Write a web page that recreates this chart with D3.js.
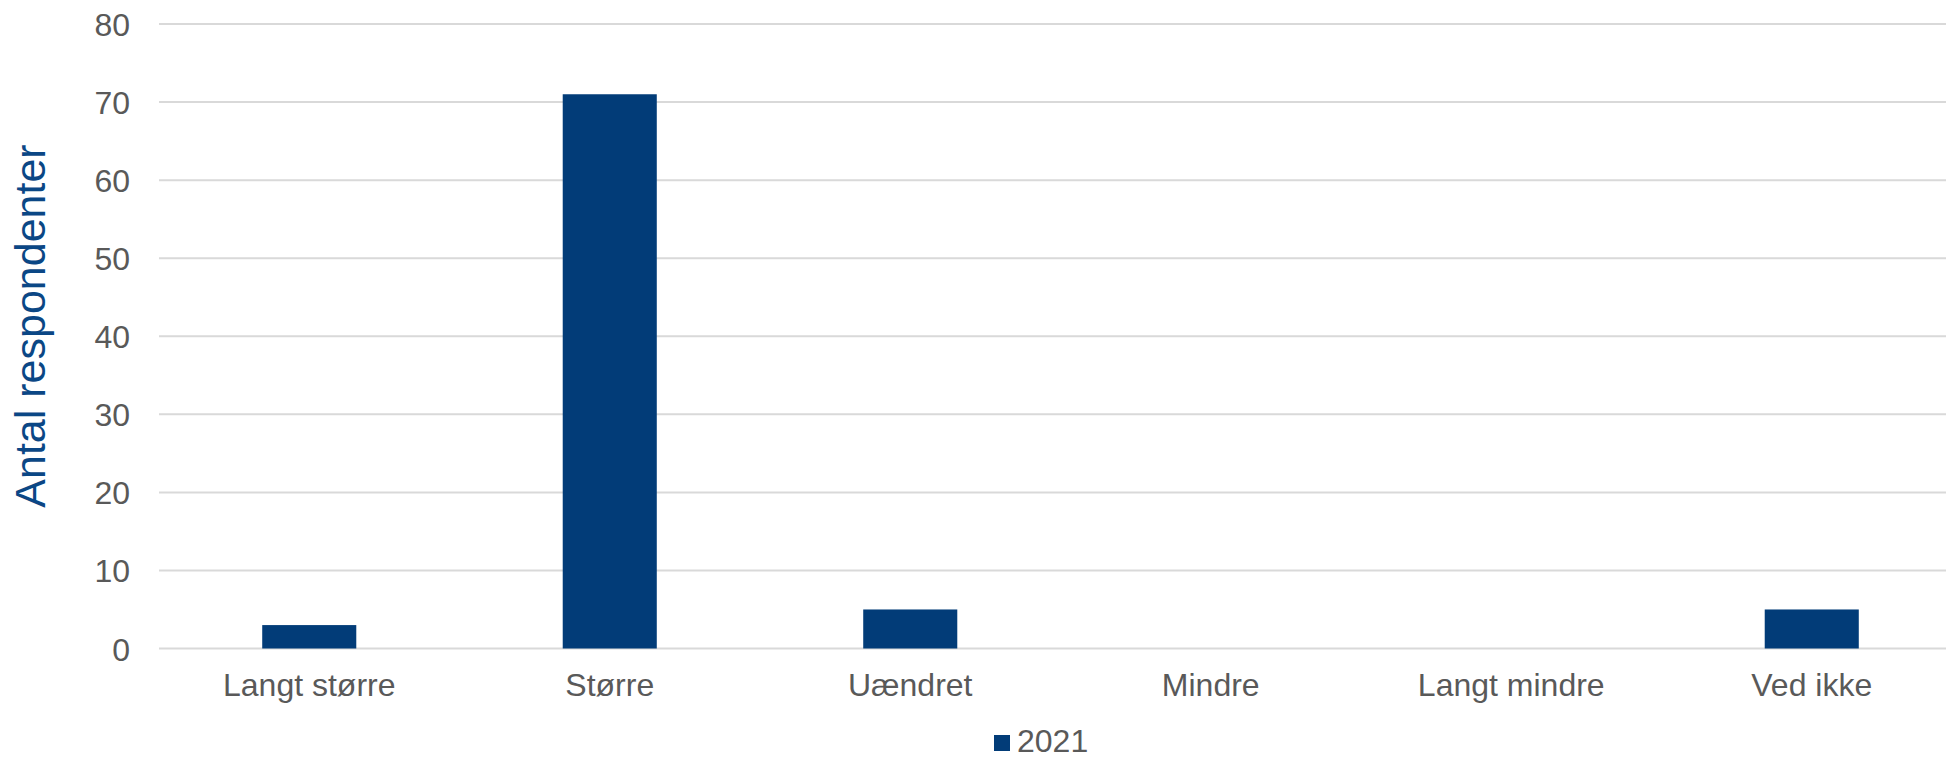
<!DOCTYPE html>
<html>
<head>
<meta charset="utf-8">
<script src="https://cdn.jsdelivr.net/npm/d3@7"></script>
<style>
  html, body { margin: 0; padding: 0; background: #fff; }
  svg { display: block; font-family: "Liberation Sans", Arial, sans-serif; }
  .axis path, .axis line { display: none; }
  .axis text { fill: #595959; font-size: 32px; }
  .grid line { stroke: #d9d9d9; stroke-width: 2; }
</style>
</head>
<body>
<svg id="chart"></svg>
<script>
'use strict';

// Data
var categories = ['Langt større', 'Større', 'Uændret', 'Mindre', 'Langt mindre', 'Ved ikke'];
var values2021 = [3, 71, 5, 0, 0, 5];
var yTicks = [0, 10, 20, 30, 40, 50, 60, 70, 80];
var seriesName = '2021';

var W = 1946, H = 759;
var margin = { top: 24, right: -16, bottom: 110, left: 159 };
var width = W - margin.left - margin.right;
var height = 648.5 - margin.top;
var barColor = '#023c78';

var svg = d3.select('#chart').attr('width', W).attr('height', H);
var g = svg.append('g').attr('transform', 'translate(' + margin.left + ',' + margin.top + ')');

var x = d3.scaleBand().domain(categories).range([0, width]).padding(0);
var y = d3.scaleLinear().domain([0, 80]).range([height, 0]);
var barW = x.bandwidth() * 0.313;

// gridlines
g.append('g').attr('class', 'grid')
  .selectAll('line').data(yTicks).enter().append('line')
  .attr('x1', 0).attr('x2', width)
  .attr('y1', function (d) { return y(d); })
  .attr('y2', function (d) { return y(d); });

// y axis
g.append('g').attr('class', 'axis axis-y')
  .call(d3.axisLeft(y).tickValues(yTicks).tickSize(0).tickPadding(29))
  .selectAll('text').attr('dy', '0.36em');

// x axis
g.append('g').attr('class', 'axis axis-x')
  .attr('transform', 'translate(0,' + height + ')')
  .call(d3.axisBottom(x).tickSize(0).tickPadding(25))
  .selectAll('text').attr('dy', '0.71em');

// bars
g.append('g').selectAll('rect').data(values2021).enter().append('rect')
  .attr('x', function (d, i) { return x(categories[i]) + (x.bandwidth() - barW) / 2; })
  .attr('width', barW)
  .attr('y', function (d) { return y(d); })
  .attr('height', function (d) { return height - y(d); })
  .attr('fill', barColor);

// y title
svg.append('text')
  .attr('transform', 'translate(45,326) rotate(-90)')
  .attr('text-anchor', 'middle')
  .attr('fill', '#0b4785')
  .style('font-size', '43px')
  .text('Antal respondenter');

// legend
var lg = svg.append('g').attr('transform', 'translate(994,735)');
lg.append('rect').attr('width', 16).attr('height', 16).attr('fill', barColor);
lg.append('text').attr('x', 23).attr('y', 17)
  .attr('fill', '#595959').style('font-size', '32px')
  .text(seriesName);
</script>
</body>
</html>
